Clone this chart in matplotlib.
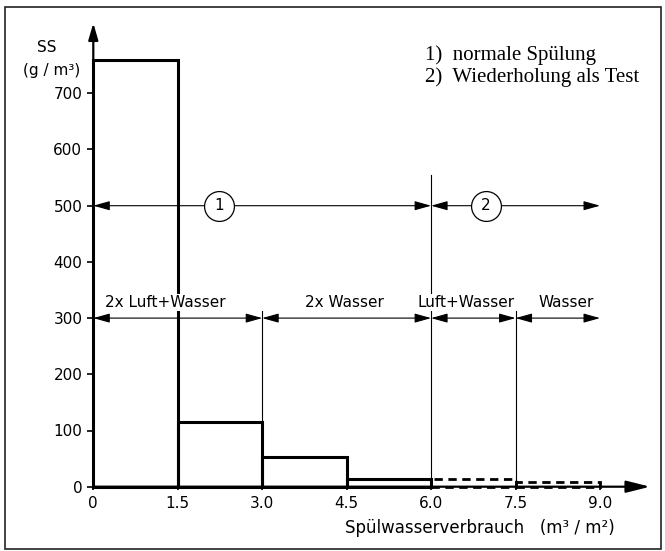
import matplotlib
matplotlib.use("Agg")
import matplotlib.pyplot as plt
from matplotlib.patches import Rectangle

# ---- data ----
bin_left_normal = [0.0, 1.5, 3.0, 4.5]
ss_normal = [760, 115, 52, 13]
bin_left_test = [6.0, 7.5]
ss_test = [13, 8]
bin_width = 1.5

xticks = [0, 1.5, 3.0, 4.5, 6.0, 7.5, 9.0]
xtick_labels = ["0", "1.5", "3.0", "4.5", "6.0", "7.5", "9.0"]
yticks = [0, 100, 200, 300, 400, 500, 600, 700]
ytick_labels = ["0", "100", "200", "300", "400", "500", "600", "700"]

phase_bounds = [0.0, 3.0, 6.0, 7.5, 9.0]
phase_labels = ["2x Luft+Wasser", "2x Wasser", "Luft+Wasser", "Wasser"]
phase_label_x = [1.28, 4.46, 6.62, 8.40]
phase_y = 300

run_bounds = [0.0, 6.0, 9.0]
run_labels = ["1", "2"]
run_label_x = [2.23, 6.97]
run_y = 500

legend_lines = ["1)  normale Spülung", "2)  Wiederholung als Test"]

# ---- figure ----
W, H = 665, 551
fig = plt.figure(figsize=(W / 100, H / 100), dpi=100)
ax = fig.add_axes([93.3 / W, (H - 486.7) / H, 563 / W, 830 * 0.562 / H])
ax.set_xlim(0, 10)
ax.set_ylim(0, 830)
for s in ax.spines.values():
    s.set_visible(False)

# bars
ax.bar(bin_left_normal, ss_normal, width=bin_width, align="edge", fill=False,
       edgecolor="black", linewidth=2.2, clip_on=False, zorder=3)
ax.bar(bin_left_test, ss_test, width=bin_width, align="edge", fill=False,
       edgecolor="black", linewidth=2.0, linestyle=(0, (3, 2)), clip_on=False, zorder=3)

# thin vertical guide lines
ax.plot([3.0, 3.0], [ss_normal[1], 312], color="black", lw=0.8, zorder=2)
ax.plot([6.0, 6.0], [0, 555], color="black", lw=0.8, zorder=2)
ax.plot([7.5, 7.5], [0, 312], color="black", lw=0.8, zorder=2)

# axes with arrows
ax.annotate("", xy=(0, 825), xytext=(0, 0), annotation_clip=False,
            arrowprops=dict(arrowstyle="-|>,head_length=1.0,head_width=0.29",
                            mutation_scale=10, lw=1.6, color="black",
                            shrinkA=0, shrinkB=0), zorder=4)
ax.annotate("", xy=(9.89, 0), xytext=(0, 0), annotation_clip=False,
            arrowprops=dict(arrowstyle="-|>,head_length=1.44,head_width=0.36",
                            mutation_scale=10, lw=1.6, color="black",
                            shrinkA=0, shrinkB=0), zorder=4)

def dim_arrows(bounds, y):
    for a, b in zip(bounds[:-1], bounds[1:]):
        ax.annotate("", xy=(b, y), xytext=(a, y), annotation_clip=False,
                    arrowprops=dict(arrowstyle="<|-|>,head_length=1.0,head_width=0.28",
                                    mutation_scale=10, lw=0.8, color="black",
                                    shrinkA=0, shrinkB=0), zorder=2)

dim_arrows(phase_bounds, phase_y)
dim_arrows(run_bounds, run_y)

for x, s in zip(phase_label_x, phase_labels):
    ax.text(x, 320, s, ha="center", va="baseline", fontsize=11, zorder=5,
            bbox=dict(fc="white", ec="none", pad=0.8))

for x, s in zip(run_label_x, run_labels):
    ax.plot([x], [run_y], marker="o", ms=21.5, mfc="white", mec="black",
            mew=0.9, zorder=6)
    ax.text(x, run_y, s, ha="center", va="center", fontsize=11, zorder=7)

# ticks
ax.set_xticks(xticks)
ax.set_xticklabels(xtick_labels)
ax.set_yticks(yticks)
ax.set_yticklabels(ytick_labels)
ax.tick_params(axis="y", direction="out", length=4.3, width=1.2, labelsize=11, pad=3.6)
ax.tick_params(axis="x", direction="inout", length=5, width=1.2, labelsize=11, pad=4.5)

# axis labels
fig.text(47 / W, 1 - 48 / H, "SS", ha="center", va="center", fontsize=11)
fig.text(52 / W, 1 - 71 / H, "(g / m³)", ha="center", va="center", fontsize=11)
ax.text(6.87, -73, "Spülwasserverbrauch   (m³ / m²)", ha="center", va="center",
        fontsize=12)

# legend notes
fig.text(425 / W, 1 - 55 / H, legend_lines[0], ha="left", va="center",
         fontsize=15, family="Liberation Serif")
fig.text(425 / W, 1 - 77 / H, legend_lines[1], ha="left", va="center",
         fontsize=15, family="Liberation Serif")

# outer frame
fig.add_artist(Rectangle((5 / W, 1 - 549 / H), (661 - 5) / W, (549 - 7) / H,
                         transform=fig.transFigure, fill=False, ec="#222222", lw=1.2))

fig.savefig("out.png", dpi=100)
